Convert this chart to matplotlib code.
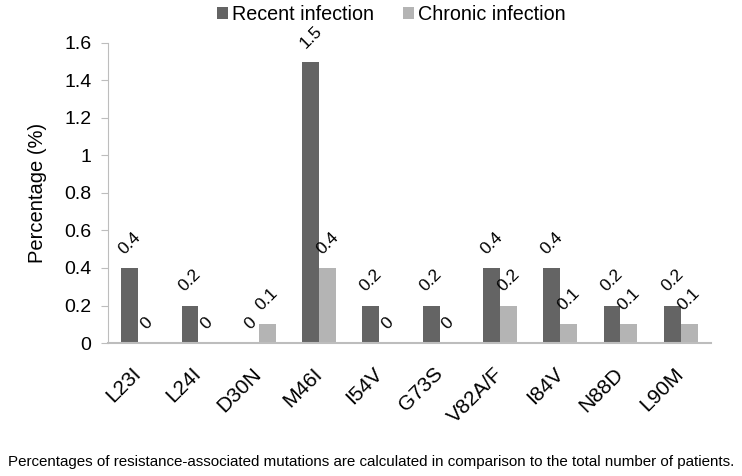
import numpy as np
import matplotlib.transforms as mtransforms
from matplotlib import pyplot as plt

plt.rcParams['font.family'] = ['Liberation Sans', 'DejaVu Sans']

mutations = ['L23I', 'L24I', 'D30N', 'M46I', 'I54V', 'G73S', 'V82A/F', 'I84V', 'N88D', 'L90M']
recent = [0.4, 0.2, 0, 1.5, 0.2, 0.2, 0.4, 0.4, 0.2, 0.2]
chronic = [0, 0, 0.1, 0.4, 0, 0, 0.2, 0.1, 0.1, 0.1]
y_ticks = [0, 0.2, 0.4, 0.6, 0.8, 1, 1.2, 1.4, 1.6]

fig = plt.figure(figsize=(7.42, 4.76), dpi=100)
ax = fig.add_axes([0.1456, 0.2794, 0.8124, 0.6303])

x = np.arange(len(mutations))
w = 0.28
b1 = ax.bar(x - w/2, recent, w, color='#646464', label='Recent infection')
b2 = ax.bar(x + w/2, chronic, w, color='#b4b4b4', label='Chronic infection')

# value labels above each bar
for bars, vals in [(b1, recent), (b2, chronic)]:
    for bar, v in zip(bars, vals):
        ax.annotate(f'{v:g}', (bar.get_x() + bar.get_width()/2, v),
                    xytext=(0, 8), textcoords='offset points',
                    ha='center', va='bottom', rotation=45, fontsize=12.5)

ax.set_xlim(-0.5, len(mutations) - 0.5)
ax.set_ylim(0, 1.6)
ax.set_yticks(y_ticks)
ax.set_yticklabels([f'{t:g}' for t in y_ticks], fontsize=14)
ax.set_xticks(x)
ax.set_xticklabels(mutations, rotation=45, ha='right', va='center',
                   rotation_mode='anchor', fontsize=15)
shift = mtransforms.ScaledTranslation(2/100, 0, fig.dpi_scale_trans)
for lab in ax.get_xticklabels():
    lab.set_transform(lab.get_transform() + shift)
ax.tick_params(axis='x', length=0, pad=20)
ax.tick_params(axis='y', length=5, color='#bdbdbd', pad=7)
ax.set_ylabel('Percentage (%)', fontsize=14.5, labelpad=12)

for s in ['top', 'right']:
    ax.spines[s].set_visible(False)
ax.spines['left'].set_color('#bdbdbd')
ax.spines['bottom'].set_color('#bdbdbd')
ax.spines['bottom'].set_linewidth(1.5)

ax.legend(loc='lower center', bbox_to_anchor=(0.47, 1.017), ncol=2, frameon=False,
          fontsize=14.2, handlelength=0.55, handleheight=0.55, handletextpad=0.2,
          columnspacing=1.5, borderaxespad=0.3)

fig.text(0.5, 0.029, 'Percentages of resistance-associated mutations are calculated in comparison to the total number of patients.',
         ha='center', va='center', fontsize=10.9)

fig.savefig('out.png', dpi=100)
